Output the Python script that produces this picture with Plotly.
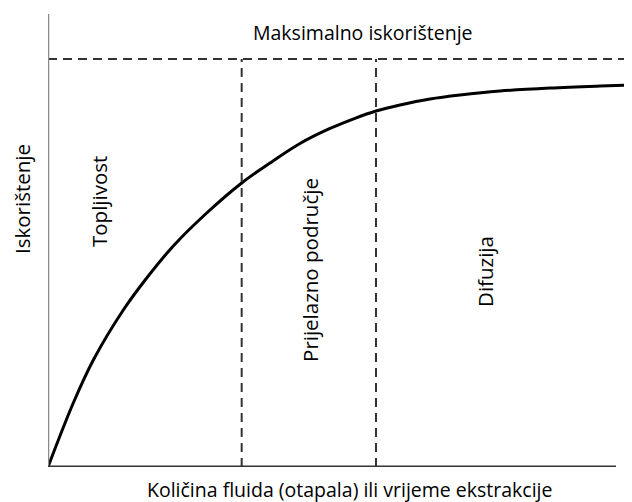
import plotly.graph_objects as go

# Curve data (fluid amount / extraction time in arbitrary units, recovery in % of maximum)
t = [0, 0.445, 0.798, 1.326, 1.738, 2.206, 2.794, 3.410, 3.908, 4.437, 4.965,
     5.405, 5.775, 6.197, 6.725, 7.254, 7.958, 8.838, 9.718, 10.282]
recovery = [0, 15.69, 26.23, 38.48, 46.32, 54.17, 62.25, 69.61, 74.51, 79.29, 82.97,
            85.47, 87.25, 88.73, 90.20, 91.18, 92.16, 92.89, 93.38, 93.63]

max_recovery = 100
boundaries = [3.41, 5.775]
x_end = 10.0
x_max = 10.282
y_max = 111.03

region_labels = ["Topljivost", "Prijelazno područje", "Difuzija"]
region_x = [0.898, 4.613, 7.694]
region_y = [64.95, 48.3, 47.8]

FONT = "Open Sans"
HSIZE = 19.5
VSIZE = 20.5
fig = go.Figure()
fig.add_trace(go.Scatter(x=t, y=recovery, mode="lines",
                         line=dict(color="black", width=3, shape="spline", smoothing=1.0),
                         hoverinfo="skip", showlegend=False))

shapes = []
shapes.append(dict(type="line", xref="x", yref="y", x0=0, x1=x_max, y0=max_recovery, y1=max_recovery,
                   line=dict(color="#333333", width=2, dash="9px,6px")))
for b in boundaries:
    shapes.append(dict(type="line", xref="x", yref="y", x0=b, x1=b, y0=0, y1=max_recovery,
                       line=dict(color="#333333", width=2, dash="9px,6px")))
shapes.append(dict(type="line", xref="x", yref="y", x0=0, x1=0, y0=0, y1=y_max,
                   line=dict(color="#8a8a8a", width=2.5)))
shapes.append(dict(type="line", xref="x", yref="y", x0=0, x1=x_end, y0=0, y1=0,
                   line=dict(color="#333333", width=3)))

annotations = []
annotations.append(dict(text="Maksimalno iskorištenje", x=5.546, y=106.4, xref="x", yref="y",
                        xanchor="center", yanchor="middle",
                        showarrow=False, font=dict(family=FONT, size=HSIZE, color="black")))
annotations.append(dict(text="Količina fluida (otapala) ili vrijeme ekstrakcije", x=0.517, y=-0.0486,
                        xref="paper", yref="paper", xanchor="center", yanchor="middle",
                        showarrow=False, font=dict(family=FONT, size=HSIZE, color="black")))
annotations.append(dict(text="Iskorištenje", x=-0.0445, y=0.5916, xref="paper", yref="paper",
                        xanchor="center", yanchor="middle", textangle=-90, showarrow=False,
                        font=dict(family=FONT, size=VSIZE, color="black")))
for lab, lx, ly in zip(region_labels, region_x, region_y):
    annotations.append(dict(text=lab, x=lx, y=ly, xref="x", yref="y", textangle=-90,
                            xanchor="center", yanchor="middle",
                            showarrow=False, font=dict(family=FONT, size=VSIZE, color="black")))

fig.update_layout(
    width=624, height=494,
    margin=dict(l=40, r=0, t=6, b=35),
    paper_bgcolor="white", plot_bgcolor="white",
    xaxis=dict(range=[0, x_max], visible=False, fixedrange=True),
    yaxis=dict(range=[0, y_max], visible=False, fixedrange=True),
    shapes=shapes, annotations=annotations,
)
fig.write_html("out.html")
